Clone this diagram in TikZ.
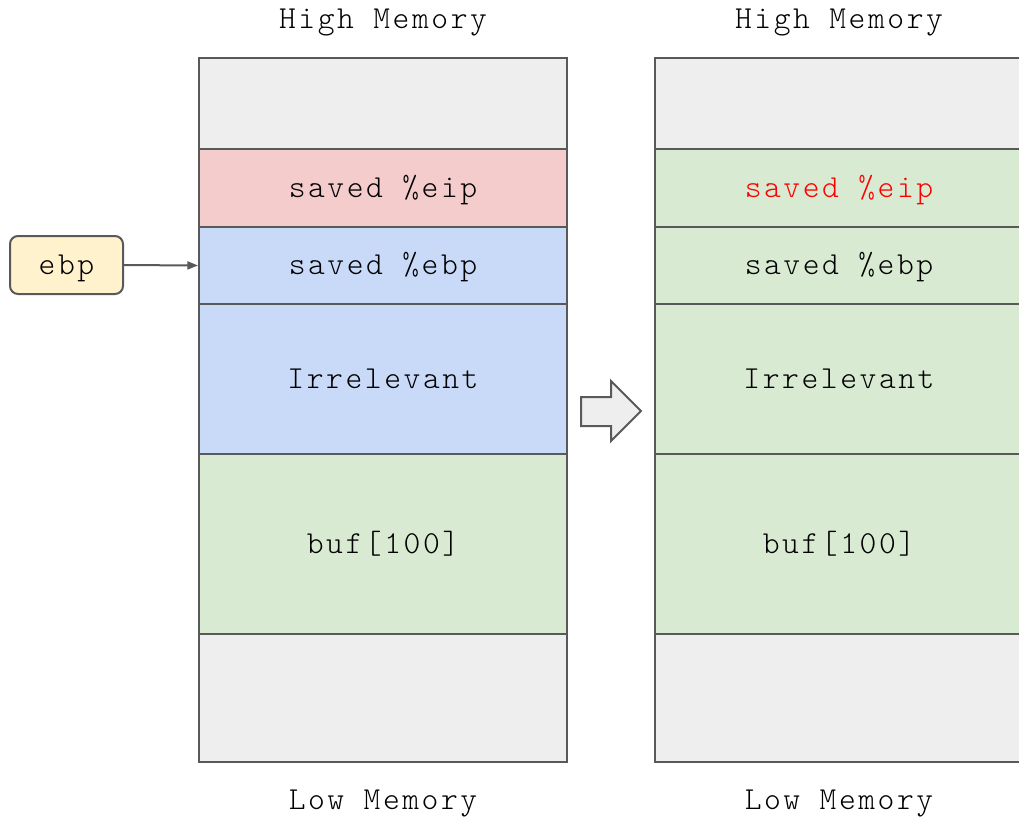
\documentclass[tikz,border=0pt]{standalone}
\usepackage{fontspec}
\setmonofont[LetterSpace=8]{Latin Modern Mono Light}
\usetikzlibrary{arrows.meta}
\definecolor{cellgray}{HTML}{EEEEEE}
\definecolor{cellred}{HTML}{F4CCCC}
\definecolor{cellblue}{HTML}{C9DAF8}
\definecolor{cellgreen}{HTML}{D9EAD3}
\definecolor{edge}{HTML}{595959}
\definecolor{regyellow}{HTML}{FFF2CC}
\tikzset{
  label font/.style={font=\ttfamily\fontsize{24}{28}\selectfont,
    text height=14pt, text depth=0pt},
  cell/.style={draw=edge, line width=1.5pt, anchor=north west, inner sep=0pt,
    minimum width=276pt, label font},
  caption/.style={label font, inner sep=0pt},
  reg/.style={draw=edge, line width=1.5pt, fill=regyellow, rounded corners=6pt,
    minimum width=84.75pt, minimum height=43.5pt, inner sep=0pt, label font},
  pointer/.style={draw=edge, line width=1.5pt, -{Triangle[length=8pt,width=6pt]}},
  bigarrow/.style={draw=edge, line width=1.5pt, fill=cellgray, line join=miter},
}
\begin{document}
\begin{tikzpicture}[x=0.75pt,y=-0.75pt]
\useasboundingbox (0,0) rectangle (1019,822);
\clip (0,0) rectangle (1019,822);

% stack before the overflow
\node[cell, fill=cellgray,  minimum height=68.25pt] (l0) at (198,57)  {};
\node[cell, fill=cellred,   minimum height=58.5pt]  (l1) at (198,148) {saved \%eip};
\node[cell, fill=cellblue,  minimum height=57.75pt] (l2) at (198,226) {saved \%ebp};
\node[cell, fill=cellblue,  minimum height=112.5pt] (l3) at (198,303) {Irrelevant};
\node[cell, fill=cellgreen, minimum height=135pt]   (l4) at (198,453) {buf[100]};
\node[cell, fill=cellgray,  minimum height=96pt]    (l5) at (198,633) {};

% stack after the overflow
\node[cell, fill=cellgray,  minimum height=68.25pt] (r0) at (654,57)  {};
\node[cell, fill=cellgreen, minimum height=58.5pt, text=red] (r1) at (654,148) {saved \%eip};
\node[cell, fill=cellgreen, minimum height=57.75pt] (r2) at (654,226) {saved \%ebp};
\node[cell, fill=cellgreen, minimum height=112.5pt] (r3) at (654,303) {Irrelevant};
\node[cell, fill=cellgreen, minimum height=135pt]   (r4) at (654,453) {buf[100]};
\node[cell, fill=cellgray,  minimum height=96pt]    (r5) at (654,633) {};

% captions
\node[caption] (lhigh) at (383,19)  {High Memory};
\node[caption] (llow)  at (383,800) {Low Memory};
\node[caption] (rhigh) at (839,19)  {High Memory};
\node[caption] (rlow)  at (839,800) {Low Memory};

% frame pointer register
\node[reg] (ebp) at (66.5,265) {ebp};
\draw[pointer] (ebp.east) -- (l2.west);

% transition arrow
\draw[bigarrow] (581,397) -- (611,397) -- (611,381) -- (641,411)
  -- (611,441) -- (611,426) -- (581,426) -- cycle;
\end{tikzpicture}
\end{document}
